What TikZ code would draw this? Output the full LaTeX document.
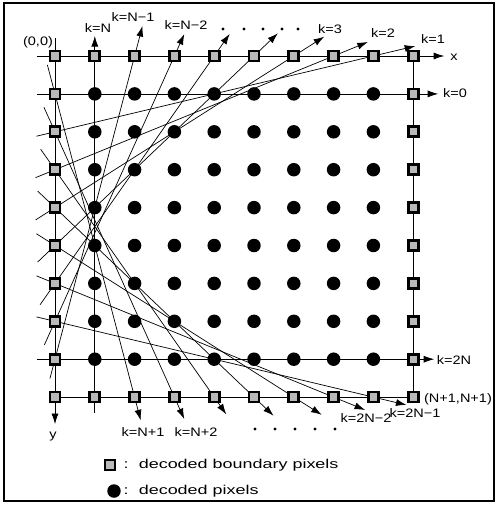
\documentclass[tikz,border=0pt]{standalone}
\usepackage{fontspec}
\setmainfont{Liberation Sans}
\newfontfamily\lblfont[FakeStretch=1.18]{Liberation Sans}
\newfontfamily\legfont[FakeStretch=1.4]{Liberation Sans}
\usetikzlibrary{arrows.meta, calc, backgrounds}

\begin{document}
\begin{tikzpicture}[
    x=0.02cm, y=-0.02cm,
    >={Latex[length=6pt,width=4pt]},
    line width=0.65pt,
    bpix/.style={rectangle, draw=black, line width=1.5pt, fill=gray!55, inner sep=0pt, minimum size=0.2cm},
    dpix/.style={circle, fill=black, inner sep=0pt, minimum size=0.27cm},
    klbl/.style={font=\lblfont\fontsize{7pt}{8pt}\selectfont, inner sep=0pt},
    leglbl/.style={font=\legfont\fontsize{7.3pt}{8pt}\selectfont, anchor=west, inner sep=0pt},
    sdot/.style={circle, fill=black, inner sep=0pt, minimum size=1.8pt}
]
\useasboundingbox (0,0) rectangle (498,505);
% frame
\draw[line width=0.8pt] (4,3) rectangle (494,501);
% grid origin and pitch (px)
\def\xo{55}   \def\yo{56}
\def\dx{39.8} \def\dy{37.9}
% pixels: boundary squares and decoded dots
\foreach \i in {0,...,9} {
  \foreach \j in {0,...,9} {
    \pgfmathtruncatemacro\isb{(\i==0)||(\i==9)||(\j==0)||(\j==9)}
    \ifnum\isb=1
      \node[bpix] (p-\i-\j) at ({\xo+\i*\dx},{\yo+\j*\dy}) {};
    \else
      \node[dpix] (p-\i-\j) at ({\xo+\i*\dx},{\yo+\j*\dy}) {};
    \fi
  }
}
% free ends of the axes and straight lines
\coordinate (xbeg)   at ($(p-0-0)+(-18,0)$);
\coordinate (xend)   at ($(p-9-0)+(31,0)$);
\coordinate (kzbeg)  at ($(p-0-1)+(-18,0)$);
\coordinate (kzend)  at ($(p-9-1)+(25,0)$);
\coordinate (ktnbeg) at ($(p-0-8)+(-18,0)$);
\coordinate (ktnend) at ($(p-9-8)+(21,0)$);
\coordinate (ybeg)   at ($(p-0-0)+(0,-18)$);
\coordinate (yend)   at ($(p-0-9)+(0,27)$);
\coordinate (knbeg)  at ($(p-1-9)+(0,16)$);
\coordinate (knend)  at ($(p-1-0)+(0,-20)$);

\begin{scope}[on background layer]
  % axes, rows and columns
  \draw[->] (xbeg) -- (xend);
  \draw[->] (ybeg) -- (yend);
  \draw[->] (kzbeg) -- (kzend);
  \draw[->] (ktnbeg) -- (ktnend);
  \draw[->] (knbeg) -- (knend);
  \draw (p-0-9.center) -- (p-9-9.center);
  \draw (p-9-0.center) -- (p-9-9.center);
  % k=1 ... N-1 : from left boundary up through the top boundary
  \foreach \k/\ea/\eb in {1/19/43, 2/21/37, 3/23/36, 4/24/33, 5/26/27, 6/26/24, 7/20/31} {
    \pgfmathtruncatemacro\r{\k+1}
    \pgfmathtruncatemacro\c{9-\k}
    \pgfmathsetmacro\la{\ea*0.02}
    \pgfmathsetmacro\lb{\eb*0.02}
    \draw[->] ($(p-0-\r.center)!-\la cm!(p-\c-0.center)$) -- ($(p-\c-0.center)!-\lb cm!(p-0-\r.center)$);
  }
  % k=N+1 ... 2N-1 : from left boundary down through the bottom boundary
  \foreach \j/\ea/\eb in {1/30/24, 2/27/24, 3/25/21, 4/24/27, 5/22/33, 6/20/34, 7/19/34} {
    \pgfmathtruncatemacro\c{\j+1}
    \pgfmathsetmacro\la{\ea*0.02}
    \pgfmathsetmacro\lb{\eb*0.02}
    \draw[->] ($(p-0-\j.center)!-\la cm!(p-\c-9.center)$) -- ($(p-\c-9.center)!-\lb cm!(p-0-\j.center)$);
  }
\end{scope}

% labels
\node[klbl] (l-org)  at (38,42)   {(0,0)};
\node[klbl] (l-kn)   at (98,28)   {k=N};
\node[klbl] (l-kn1)  at (133,17)  {k=N−1};
\node[klbl] (l-kn2)  at (186,25)  {k=N−2};
\node[klbl] (l-k3)   at (330,29)  {k=3};
\node[klbl] (l-k2)   at (383,33)  {k=2};
\node[klbl] (l-k1)   at (433,39)  {k=1};
\node[klbl] (l-x)    at (454,57)  {x};
\node[klbl] (l-k0)   at (455,93)  {k=0};
\node[klbl] (l-k2n)  at (454,360) {k=2N};
\node[klbl] (l-end)  at (458,399) {(N+1,N+1)};
\node[klbl] (l-k2n1) at (415,413) {k=2N−1};
\node[klbl] (l-k2n2) at (366,418) {k=2N−2};
\node[klbl] (l-kp1)  at (143,432) {k=N+1};
\node[klbl] (l-kp2)  at (196,432) {k=N+2};
\node[klbl] (l-y)    at (53,437)  {y};
% dots for the omitted k
\foreach \d [count=\n] in {223,244,263,282,298}
  \node[sdot] (tdot-\n) at (\d,29) {};
\foreach \d [count=\n] in {255,275,295,315,335}
  \node[sdot] (bdot-\n) at (\d,429) {};
% key
\node[bpix] (key-b) at (110,465) {};
\node[leglbl] (key-bt) at (123,465) {:\hspace{0.8em}decoded boundary pixels};
\node[dpix] (key-d) at (114,491) {};
\node[leglbl] (key-dt) at (123,491) {:\hspace{0.8em}decoded pixels};
\end{tikzpicture}
\end{document}
